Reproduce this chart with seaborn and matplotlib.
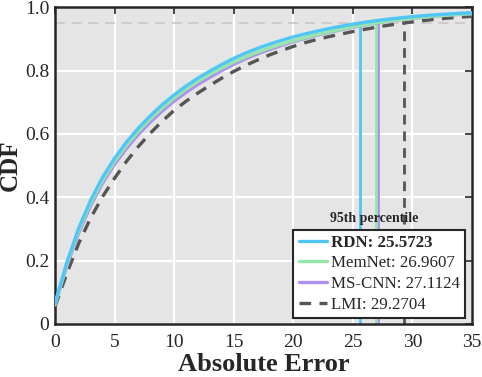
import numpy as np
import pandas as pd
import matplotlib
matplotlib.use('Agg')
import matplotlib.pyplot as plt
import seaborn as sns

# Values (CDF of absolute error, one value per unit)
error = list(range(0, 36))
cdf_rdn = [0.065, 0.195, 0.303, 0.391, 0.463, 0.523, 0.574, 0.618, 0.657, 0.692,
           0.723, 0.751, 0.776, 0.798, 0.819, 0.838, 0.855, 0.870, 0.883, 0.895,
           0.906, 0.9155, 0.9243, 0.9323, 0.9396, 0.9462, 0.9522, 0.9575, 0.9622, 0.9664,
           0.9701, 0.9733, 0.9761, 0.9785, 0.9806, 0.9824]
cdf_memnet = [0.062, 0.189, 0.295, 0.382, 0.453, 0.513, 0.564, 0.608, 0.647, 0.682,
              0.713, 0.741, 0.766, 0.7875, 0.808, 0.8265, 0.843, 0.858, 0.871, 0.883,
              0.894, 0.904, 0.9133, 0.922, 0.9301, 0.9376, 0.9445, 0.9506, 0.956, 0.9609,
              0.9653, 0.969, 0.9723, 0.9751, 0.9776, 0.9797]
cdf_mscnn = [0.060, 0.183, 0.288, 0.374, 0.445, 0.504, 0.554, 0.598, 0.637, 0.672,
             0.703, 0.731, 0.756, 0.7785, 0.800, 0.8195, 0.837, 0.8525, 0.866, 0.879,
             0.891, 0.9015, 0.9113, 0.9203, 0.9286, 0.9364, 0.9436, 0.9498, 0.9554, 0.9604,
             0.9648, 0.9686, 0.9719, 0.9748, 0.9773, 0.9794]
cdf_lmi = [0.055, 0.160, 0.255, 0.335, 0.402, 0.460, 0.513, 0.560, 0.602, 0.640,
           0.674, 0.703, 0.729, 0.753, 0.776, 0.797, 0.816, 0.833, 0.849, 0.863,
           0.876, 0.888, 0.898, 0.907, 0.915, 0.923, 0.930, 0.9368, 0.943, 0.9485,
           0.9535, 0.958, 0.962, 0.9655, 0.9685, 0.971]

methods = ['RDN', 'MemNet', 'MS-CNN', 'LMI']
p95 = [25.5723, 26.9607, 27.1124, 29.2704]
colors = ['#4fc6f6', '#95e6a8', '#ad8ff0', '#555555']
styles = ['-', '-', '-', '--']

sns.set_theme(style='darkgrid', rc={'axes.facecolor': '#e5e5e5', 'grid.color': 'white',
                                    'grid.linewidth': 1.5})
plt.rcParams['font.family'] = ['Liberation Serif', 'DejaVu Serif']

df = pd.DataFrame({'error': error, 'RDN': cdf_rdn, 'MemNet': cdf_memnet,
                   'MS-CNN': cdf_mscnn, 'LMI': cdf_lmi})

fig = plt.figure(figsize=(4.82, 3.77), dpi=100)
ax = fig.add_axes([0.114, 0.1406, 0.865, 0.8404])

# 95% reference line
ax.axhline(0.95, color='#c8c8c8', lw=1.2, ls=(0, (6, 4)), zorder=1.5)

handles = {}
for m, p, c, s in reversed(list(zip(methods, p95, colors, styles))):
    sns.lineplot(data=df, x='error', y=m, ax=ax, color=c, lw=2.4, linestyle=s, zorder=3)
    line = ax.lines[-1]
    if s == '--':
        line.set_dashes((3.5, 2.5))
    vl, = ax.plot([p, p], [0, 0.95], color=c, lw=2.0, zorder=2.5)
    if s == '--':
        vl.set_dashes((3.5, 2.5))
    handles[m] = line

ax.set_xlim(0, 35)
ax.set_ylim(0, 1)
ax.set_xticks(range(0, 36, 5))
ax.set_yticks([0, 0.2, 0.4, 0.6, 0.8, 1.0])
ax.set_yticklabels(['0', '0.2', '0.4', '0.6', '0.8', '1.0'])
ax.tick_params(direction='in', length=5, width=1.2, color='#262626', labelsize=14,
               top=True, right=True, labelcolor='#262626')
ax.tick_params(axis='x', pad=7)
ax.tick_params(axis='y', pad=4)
for sp in ax.spines.values():
    sp.set_visible(True)
    sp.set_color('#262626')
    sp.set_linewidth(1.8)
ax.set_xlabel('Absolute Error', fontsize=19, fontweight='bold', color='#262626', labelpad=2)
ax.set_ylabel('CDF', fontsize=18, fontweight='bold', color='#262626', labelpad=2)

labels = [f'{m}: {p:.4f}' for m, p in zip(methods, p95)]
leg = ax.legend([handles[m] for m in methods], labels, loc='lower right',
                bbox_to_anchor=(0.983, 0.019), borderaxespad=0, fontsize=12.2,
                frameon=True, fancybox=False, framealpha=1, edgecolor='#262626',
                handlelength=1.7, handletextpad=0.2, borderpad=0.3, labelspacing=0.28)
leg.get_frame().set_linewidth(1.5)
leg.get_frame().set_facecolor('white')
leg.get_texts()[0].set_fontweight('bold')
ax.text(0.765, 0.332, '95th percentile', transform=ax.transAxes, ha='center', va='center',
        fontsize=10, fontweight='bold', color='#262626')

fig.savefig('out.png', dpi=100)
